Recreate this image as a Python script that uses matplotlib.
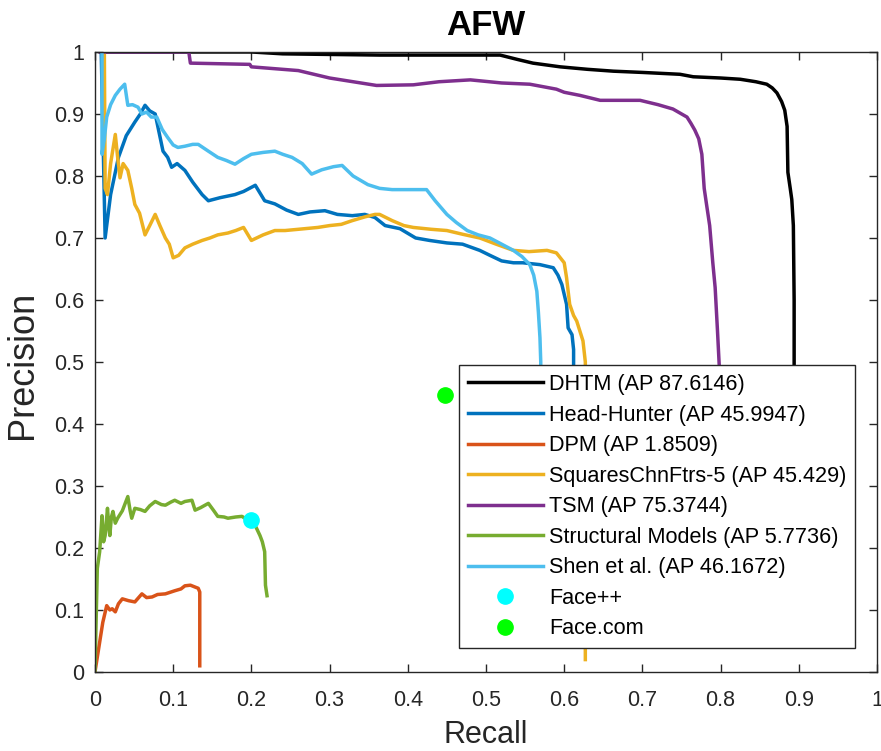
import matplotlib
matplotlib.use("Agg")
import matplotlib.pyplot as plt

plt.rcParams['font.family'] = ['Liberation Sans', 'DejaVu Sans']

# ---------------- data ----------------
dhtm_x = [0.007, 0.12, 0.2, 0.24, 0.3, 0.364, 0.4, 0.47, 0.518, 0.54, 0.56, 0.595, 0.63, 0.663,
          0.7, 0.748, 0.765, 0.8, 0.825, 0.845, 0.859, 0.866, 0.872, 0.878, 0.882, 0.885, 0.886,
          0.889, 0.891, 0.893, 0.894, 0.894]
dhtm_y = [1.0, 1.0, 1.0, 0.997, 0.996, 0.995, 0.995, 0.995, 0.995, 0.988, 0.982, 0.976, 0.972, 0.969,
          0.967, 0.964, 0.96, 0.958, 0.956, 0.952, 0.948, 0.942, 0.934, 0.92, 0.906, 0.88, 0.806,
          0.78, 0.762, 0.72, 0.6, 0.45]

hh_x = [0.008, 0.013, 0.02, 0.03, 0.04, 0.051, 0.058, 0.064, 0.07, 0.077, 0.082, 0.087, 0.093,
        0.098, 0.105, 0.115, 0.125, 0.137, 0.145, 0.16, 0.179, 0.19, 0.205, 0.217, 0.23, 0.245,
        0.26, 0.275, 0.294, 0.31, 0.329, 0.345, 0.358, 0.371, 0.39, 0.41, 0.428, 0.45, 0.47,
        0.492, 0.505, 0.52, 0.535, 0.547, 0.569, 0.586, 0.592, 0.597, 0.603, 0.605, 0.61, 0.612, 0.612]
hh_y = [1.0, 0.70, 0.77, 0.83, 0.865, 0.887, 0.90, 0.914, 0.905, 0.90, 0.87, 0.84, 0.83,
        0.814, 0.82, 0.809, 0.79, 0.77, 0.76, 0.765, 0.77, 0.775, 0.785, 0.76, 0.755, 0.745,
        0.738, 0.742, 0.744, 0.738, 0.736, 0.738, 0.733, 0.72, 0.715, 0.70, 0.696, 0.692, 0.69,
        0.68, 0.672, 0.663, 0.66, 0.66, 0.657, 0.652, 0.64, 0.625, 0.593, 0.555, 0.544, 0.52, 0.45]

dpm_x = [0.0, 0.005, 0.01, 0.015, 0.019, 0.022, 0.026, 0.03, 0.035, 0.043, 0.051, 0.06, 0.066,
         0.073, 0.08, 0.09, 0.102, 0.11, 0.115, 0.122, 0.128, 0.132, 0.134, 0.134]
dpm_y = [0.0, 0.04, 0.08, 0.107, 0.10, 0.102, 0.097, 0.11, 0.118, 0.115, 0.113, 0.126, 0.12,
         0.121, 0.125, 0.126, 0.131, 0.134, 0.139, 0.14, 0.137, 0.135, 0.129, 0.01]

sq_x = [0.012, 0.013, 0.016, 0.02, 0.026, 0.029, 0.032, 0.036, 0.042, 0.047, 0.051, 0.057, 0.064,
        0.07, 0.077, 0.083, 0.09, 0.095, 0.10, 0.107, 0.115, 0.125, 0.137, 0.147, 0.157, 0.17,
        0.18, 0.19, 0.20, 0.215, 0.23, 0.243, 0.26, 0.285, 0.3, 0.315, 0.329, 0.345, 0.358, 0.364,
        0.38, 0.395, 0.407, 0.43, 0.45, 0.47, 0.492, 0.513, 0.535, 0.555, 0.578, 0.59, 0.595, 0.6,
        0.603, 0.607, 0.612, 0.616, 0.62, 0.624, 0.627, 0.627]
sq_y = [1.0, 0.78, 0.77, 0.82, 0.867, 0.83, 0.797, 0.82, 0.809, 0.78, 0.754, 0.74, 0.705,
        0.72, 0.738, 0.72, 0.70, 0.69, 0.668, 0.672, 0.684, 0.69, 0.696, 0.70, 0.705, 0.708,
        0.712, 0.717, 0.696, 0.705, 0.712, 0.712, 0.714, 0.717, 0.72, 0.722, 0.728, 0.734, 0.738, 0.738,
        0.728, 0.72, 0.717, 0.714, 0.712, 0.706, 0.70, 0.69, 0.68, 0.678, 0.68, 0.676, 0.668, 0.66,
        0.636, 0.593, 0.575, 0.566, 0.55, 0.534, 0.50, 0.02]

tsm_x = [0.007, 0.12, 0.122, 0.198, 0.2, 0.26, 0.3, 0.33, 0.36, 0.407, 0.44, 0.48, 0.52, 0.556,
         0.59, 0.6, 0.62, 0.646, 0.67, 0.697, 0.72, 0.739, 0.757, 0.762, 0.767, 0.772, 0.776,
         0.779, 0.782, 0.786, 0.79, 0.793, 0.796, 0.80]
tsm_y = [1.0, 1.0, 0.982, 0.98, 0.976, 0.97, 0.958, 0.952, 0.946, 0.947, 0.952, 0.955, 0.95, 0.948,
         0.94, 0.935, 0.93, 0.922, 0.922, 0.922, 0.915, 0.908, 0.895, 0.885, 0.874, 0.86, 0.835,
         0.78, 0.754, 0.72, 0.66, 0.62, 0.55, 0.45]

sm_x = [0.0, 0.003, 0.006, 0.009, 0.011, 0.013, 0.016, 0.018, 0.019, 0.021, 0.023, 0.026, 0.029,
        0.035, 0.042, 0.045, 0.047, 0.051, 0.058, 0.064, 0.07, 0.077, 0.085, 0.09, 0.097, 0.102,
        0.11, 0.115, 0.124, 0.128, 0.135, 0.145, 0.152, 0.157, 0.165, 0.17, 0.18, 0.188, 0.195,
        0.20, 0.205, 0.211, 0.214, 0.217, 0.218, 0.22]
sm_y = [0.0, 0.167, 0.194, 0.252, 0.21, 0.22, 0.264, 0.23, 0.22, 0.25, 0.259, 0.24, 0.248,
        0.26, 0.283, 0.26, 0.248, 0.264, 0.262, 0.259, 0.268, 0.275, 0.27, 0.269, 0.274, 0.277,
        0.272, 0.275, 0.277, 0.261, 0.265, 0.272, 0.26, 0.251, 0.25, 0.248, 0.25, 0.251, 0.245,
        0.245, 0.236, 0.22, 0.21, 0.194, 0.14, 0.123]

shen_x = [0.009, 0.009, 0.012, 0.015, 0.02, 0.026, 0.032, 0.038, 0.042, 0.048, 0.055, 0.06, 0.066,
          0.072, 0.079, 0.086, 0.093, 0.1, 0.106, 0.115, 0.125, 0.132, 0.145, 0.157, 0.168, 0.179,
          0.19, 0.20, 0.215, 0.23, 0.24, 0.252, 0.265, 0.277, 0.29, 0.305, 0.316, 0.33, 0.349,
          0.364, 0.38, 0.4, 0.424, 0.435, 0.45, 0.462, 0.476, 0.49, 0.505, 0.52, 0.535, 0.546,
          0.556, 0.561, 0.565, 0.567, 0.569, 0.57, 0.57]
shen_y = [1.0, 0.835, 0.86, 0.895, 0.915, 0.93, 0.94, 0.948, 0.914, 0.915, 0.911, 0.90, 0.903,
          0.895, 0.895, 0.875, 0.862, 0.85, 0.846, 0.848, 0.851, 0.851, 0.84, 0.83, 0.825, 0.819,
          0.828, 0.835, 0.838, 0.84, 0.835, 0.83, 0.82, 0.803, 0.81, 0.815, 0.817, 0.80, 0.786,
          0.78, 0.778, 0.778, 0.778, 0.76, 0.738, 0.725, 0.712, 0.705, 0.70, 0.69, 0.68, 0.67,
          0.657, 0.64, 0.614, 0.58, 0.539, 0.50, 0.45]

facepp_x, facepp_y = [0.2], [0.245]
facecom_x, facecom_y = [0.448], [0.447]

labels = ["DHTM (AP 87.6146)", "Head-Hunter (AP 45.9947)", "DPM (AP 1.8509)",
          "SquaresChnFtrs-5 (AP 45.429)", "TSM (AP 75.3744)", "Structural Models (AP 5.7736)",
          "Shen et al. (AP 46.1672)", "Face++", "Face.com"]
colors = ["#000000", "#0072BD", "#D95319", "#EDB120", "#7E2F8E", "#77AC30", "#4DBEEE"]
ticks = [0, 0.1, 0.2, 0.3, 0.4, 0.5, 0.6, 0.7, 0.8, 0.9, 1]
tick_labels = ["0", "0.1", "0.2", "0.3", "0.4", "0.5", "0.6", "0.7", "0.8", "0.9", "1"]

# ---------------- plot ----------------
fig = plt.figure(figsize=(8.81, 7.51), dpi=100)
ax = fig.add_axes([0.1078, 0.1052, 0.8877, 0.8256])

series = [(dhtm_x, dhtm_y), (hh_x, hh_y), (dpm_x, dpm_y), (sq_x, sq_y),
          (tsm_x, tsm_y), (sm_x, sm_y), (shen_x, shen_y)]
for (xs, ys), c, lab in zip(series, colors, labels[:7]):
    ax.plot(xs, ys, color=c, lw=2.5, label=lab, solid_joinstyle='round')
ax.plot(facepp_x, facepp_y, 'o', color='#00FFFF', ms=11, label=labels[7])
ax.plot(facecom_x, facecom_y, 'o', color='#00FF00', ms=11, label=labels[8])

ax.set_xlim(0, 1)
ax.set_ylim(0, 1)
ax.set_xticks(ticks)
ax.set_xticklabels(tick_labels)
ax.set_yticks(ticks)
ax.set_yticklabels(tick_labels)
gray = '#262626'
for s in ax.spines.values():
    s.set_color(gray)
    s.set_linewidth(1.0)
ax.tick_params(direction='in', length=6, width=1.0, colors=gray, labelsize=15.5,
               top=True, right=True)
ax.tick_params(axis='x', pad=13)
ax.tick_params(axis='y', pad=8)

ax.set_title("AFW", fontsize=25, fontweight='bold', pad=12)
ax.set_xlabel("Recall", fontsize=22, color=gray, va='center')
ax.set_ylabel("Precision", fontsize=26, color=gray, va='center')
ax.xaxis.set_label_coords(0.5, -0.102)
ax.yaxis.set_label_coords(-0.093, 0.495)

leg = ax.legend(loc='lower right', bbox_to_anchor=(0.972, 0.0387), fontsize=15.6,
                frameon=True, fancybox=False, edgecolor=gray, framealpha=1,
                handlelength=3.45, handletextpad=0.3, labelspacing=0.44, borderpad=0.4,
                borderaxespad=0)
leg.get_frame().set_linewidth(1.0)

fig.savefig("out.png", dpi=100)
